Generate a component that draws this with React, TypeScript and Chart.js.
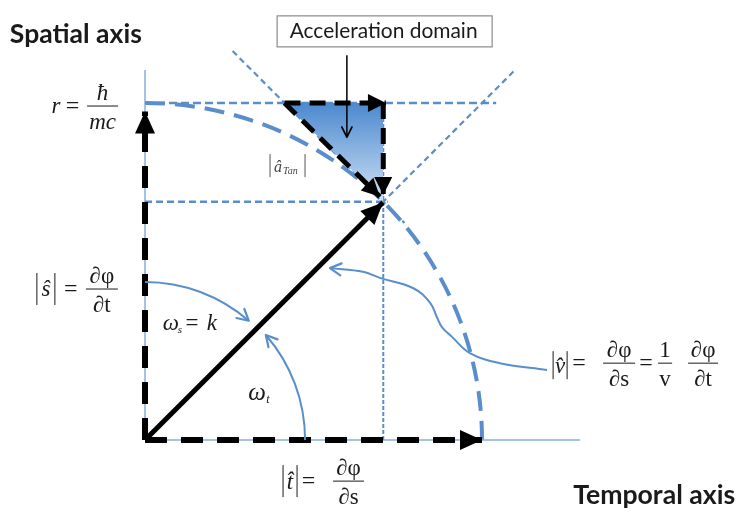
import React, { useEffect, useRef } from "react";
import { Chart, registerables } from "chart.js";

Chart.register(...registerables);

// ---- Diagram data, in units of r = ħ/mc (origin = crossing of the two axes) ----
const xExtent = [-0.4303, 1.7596];
const yExtent = [-0.2522, 1.3056];

const spatialAxis = [{ x: 0, y: 0 }, { x: 0, y: 1.098 }];
const temporalAxis = [{ x: 0, y: 0 }, { x: 1.291, y: 0 }];
const radiusLevel = [{ x: 0, y: 1 }, { x: 1.042, y: 1 }];
const velocityLevel = [{ x: 0, y: 0.707 }, { x: 0.72, y: 0.707 }];
const velocityDrop = [{ x: 0.707, y: 0 }, { x: 0.707, y: 1 }];
const coneFalling = [{ x: 0.26, y: 1.154 }, { x: 0.77, y: 0.644 }];
const coneRising = [{ x: 0.64, y: 0.64 }, { x: 1.098, y: 1.098 }];
const accelerationHyp = [{ x: 0.414, y: 1 }, { x: 0.707, y: 0.707 }];
const sHatVector = [{ x: 0, y: 0 }, { x: 0, y: 0.975 }];
const tHatVector = [{ x: 0, y: 0 }, { x: 1.0, y: 0 }];
const vVector = [{ x: 0, y: 0 }, { x: 0.706, y: 0.705 }];
const accTopEdge = [{ x: 0.414, y: 1 }, { x: 0.715, y: 1 }];
const accRightEdge = [{ x: 0.707, y: 1 }, { x: 0.707, y: 0.727 }];
const accHypEdge = [{ x: 0.414, y: 1 }, { x: 0.697, y: 0.722 }];
const domainPointer = [{ x: 0.599, y: 1.142 }, { x: 0.599, y: 0.899 }];
const vCallout = [
  { x: 1.193, y: 0.208 },
  { x: 1.053, y: 0.228 },
  { x: 0.964, y: 0.258 },
  { x: 0.911, y: 0.306 },
  { x: 0.881, y: 0.335 },
  { x: 0.866, y: 0.365 },
  { x: 0.846, y: 0.407 },
  { x: 0.795, y: 0.451 },
  { x: 0.697, y: 0.481 },
  { x: 0.647, y: 0.499 },
  { x: 0.549, y: 0.51 },
];
const circleArc = { radius: 1, from: 90, to: 0 };
const omegaSArc = { radius: 0.469, from: 90, to: 49 };
const omegaTArc = { radius: 0.475, from: 0, to: 41 };

// label anchors (data units)
const spatialTitleAt = { x: -0.401, y: 1.178 };
const temporalTitleAt = { x: 1.751, y: -0.19 };
const domainBoxAt = { x: 0.711, y: 1.214 };
const rLabelAt = { x: -0.126, y: 0.991 };
const sLabelAt = { x: -0.128, y: 0.448 };
const vLabelAt = { x: 1.211, y: 0.228 };
const tLabelAt = { x: 0.604, y: -0.122 };
const omegaSAt = { x: 0.053, y: 0.326 };
const omegaTAt = { x: 0.306, y: 0.119 };
const aTanAt = { x: 0.371, y: 0.795 };

const SERIF = '"Liberation Serif", "Times New Roman", serif';
const SANS = 'Lato, "Open Sans", sans-serif';
const BLUE = "#5A8ECB";
const AXIS_BLUE = "#86AEDC";

function fitFont(ctx: any, text: string, weight: string, family: string, target: number) {
  ctx.font = `${weight} 20px ${family}`;
  const w = ctx.measureText(text).width;
  return `${weight} ${((20 * target) / w).toFixed(2)}px ${family}`;
}

function txt(ctx: any, s: string, x: number, y: number, font: string, align: string = "left") {
  ctx.font = font;
  ctx.textAlign = align;
  ctx.textBaseline = "alphabetic";
  ctx.fillText(s, x, y);
}
function hl(ctx: any, x1: number, x2: number, y: number, w = 1) {
  ctx.beginPath();
  ctx.lineWidth = w;
  ctx.moveTo(x1, y);
  ctx.lineTo(x2, y);
  ctx.stroke();
}
function vl(ctx: any, x: number, y1: number, y2: number, w = 1) {
  ctx.beginPath();
  ctx.lineWidth = w;
  ctx.moveTo(x, y1);
  ctx.lineTo(x, y2);
  ctx.stroke();
}
function frac(ctx: any, cx: number, by: number, num: string, den: string, half: number, size = 23) {
  hl(ctx, cx - half, cx + half, by, 1);
  txt(ctx, num, cx, by - 6, `${size}px ${SERIF}`, "center");
  txt(ctx, den, cx, by + 23, `${size}px ${SERIF}`, "center");
}
function filledHead(ctx: any, tx: number, ty: number, dx: number, dy: number, len: number, half: number, color: string) {
  const n = Math.hypot(dx, dy) || 1;
  const ux = dx / n, uy = dy / n;
  const bx = tx - ux * len, by = ty - uy * len;
  ctx.save();
  ctx.setLineDash([]);
  ctx.fillStyle = color;
  ctx.beginPath();
  ctx.moveTo(tx, ty);
  ctx.lineTo(bx - uy * half, by + ux * half);
  ctx.lineTo(bx + uy * half, by - ux * half);
  ctx.closePath();
  ctx.fill();
  ctx.restore();
}
function openHead(ctx: any, tx: number, ty: number, dx: number, dy: number, len: number, half: number, color: string, w: number) {
  const n = Math.hypot(dx, dy) || 1;
  const ux = dx / n, uy = dy / n;
  const bx = tx - ux * len, by = ty - uy * len;
  ctx.save();
  ctx.setLineDash([]);
  ctx.strokeStyle = color;
  ctx.lineWidth = w;
  ctx.lineCap = "round";
  ctx.lineJoin = "round";
  ctx.beginPath();
  ctx.moveTo(bx - uy * half, by + ux * half);
  ctx.lineTo(tx, ty);
  ctx.lineTo(bx + uy * half, by - ux * half);
  ctx.stroke();
  ctx.restore();
}

function arcPath(chart: any, a: { radius: number; from: number; to: number }) {
  const xs = chart.scales.x, ys = chart.scales.y;
  const cx = xs.getPixelForValue(0), cy = ys.getPixelForValue(0);
  const r = xs.getPixelForValue(a.radius) - cx;
  const s = (-a.from * Math.PI) / 180, e = (-a.to * Math.PI) / 180;
  const ctx = chart.ctx;
  ctx.beginPath();
  ctx.arc(cx, cy, r, s, e, a.to > a.from);
  const th = (a.to * Math.PI) / 180;
  const tip = { x: cx + r * Math.cos(th), y: cy - r * Math.sin(th) };
  const dir = a.to > a.from ? { x: -Math.sin(th), y: -Math.cos(th) } : { x: Math.sin(th), y: Math.cos(th) };
  return { tip, dir };
}

const diagramPlugin = {
  id: "diagram",
  beforeDatasetsDraw(chart: any) {
    const ctx = chart.ctx;
    ctx.save();
    arcPath(chart, circleArc);
    ctx.strokeStyle = BLUE;
    ctx.lineWidth = 4;
    ctx.setLineDash([20, 10]);
    ctx.stroke();
    ctx.restore();
  },
  afterDatasetsDraw(chart: any) {
    const ctx = chart.ctx;
    const xs = chart.scales.x, ys = chart.scales.y;
    const P = (p: { x: number; y: number }) => ({ x: xs.getPixelForValue(p.x), y: ys.getPixelForValue(p.y) });

    // arrowheads on datasets
    chart.data.datasets.forEach((ds: any, i: number) => {
      if (!ds.arrow) return;
      const pts = chart.getDatasetMeta(i).data;
      const a = pts[pts.length - 2], b = pts[pts.length - 1];
      const dx = b.x - a.x, dy = b.y - a.y;
      if (ds.arrow.open) openHead(ctx, b.x, b.y, dx, dy, ds.arrow.len, ds.arrow.half, ds.arrow.color, ds.arrow.w || 2);
      else filledHead(ctx, b.x, b.y, dx, dy, ds.arrow.len, ds.arrow.half, ds.arrow.color);
    });

    // small angle arcs
    ctx.save();
    ctx.strokeStyle = BLUE;
    ctx.lineWidth = 2;
    ctx.setLineDash([]);
    for (const a of [omegaSArc, omegaTArc]) {
      const { tip, dir } = arcPath(chart, a);
      ctx.stroke();
      openHead(ctx, tip.x, tip.y, dir.x, dir.y, 11, 6, BLUE, 2.2);
    }
    ctx.restore();

    ctx.save();
    ctx.fillStyle = "#1a1a1a";
    ctx.strokeStyle = "#1a1a1a";

    // titles
    const st = P(spatialTitleAt);
    txt(ctx, "Spatial axis", st.x, st.y, fitFont(ctx, "Spatial axis", "bold", SANS, 132), "left");
    const tt = P(temporalTitleAt);
    txt(ctx, "Temporal axis", tt.x, tt.y, fitFont(ctx, "Temporal axis", "bold", SANS, 162), "right");

    // Acceleration domain box
    const bc = P(domainBoxAt);
    ctx.save();
    ctx.fillStyle = "#ffffff";
    ctx.strokeStyle = "#8a8a8a";
    ctx.lineWidth = 1.2;
    ctx.fillRect(bc.x - 107.5, bc.y - 15, 215, 31);
    ctx.strokeRect(bc.x - 107.5, bc.y - 15, 215, 31);
    ctx.restore();
    txt(ctx, "Acceleration domain", bc.x - 1, bc.y + 7, fitFont(ctx, "Acceleration domain", "normal", SANS, 188), "center");

    // r = ħ / mc
    const r = P(rLabelAt);
    frac(ctx, r.x, r.y, "", "", 15.5);
    txt(ctx, "\u0127", r.x, r.y - 6, `italic 23px ${SERIF}`, "center");
    txt(ctx, "mc", r.x, r.y + 23, `italic 23px ${SERIF}`, "center");
    txt(ctx, "=", r.x - 30, r.y + 7, `24px ${SERIF}`, "center");
    txt(ctx, "r", r.x - 42, r.y + 7, `italic 23px ${SERIF}`, "right");

    // |ŝ| = ∂φ/∂t
    const s = P(sLabelAt);
    frac(ctx, s.x, s.y, "\u2202\u03C6", "\u2202t", 16);
    txt(ctx, "=", s.x - 31, s.y + 7, `24px ${SERIF}`, "center");
    vl(ctx, s.x - 65, s.y - 16, s.y + 16);
    vl(ctx, s.x - 47, s.y - 16, s.y + 16);
    txt(ctx, "\u015D", s.x - 56, s.y + 7, `italic 23px ${SERIF}`, "center");

    // |v̂| = ∂φ/∂s = 1/v ∂φ/∂t
    const v = P(vLabelAt);
    vl(ctx, v.x, v.y - 12, v.y + 16);
    vl(ctx, v.x + 14, v.y - 12, v.y + 16);
    txt(ctx, "v\u0302", v.x + 7, v.y + 10, `italic 23px ${SERIF}`, "center");
    txt(ctx, "=", v.x + 26, v.y + 7, `24px ${SERIF}`, "center");
    frac(ctx, v.x + 66, v.y, "\u2202\u03C6", "\u2202s", 16);
    txt(ctx, "=", v.x + 93, v.y + 7, `24px ${SERIF}`, "center");
    frac(ctx, v.x + 112, v.y, "1", "v", 7);
    frac(ctx, v.x + 150, v.y, "\u2202\u03C6", "\u2202t", 15);

    // |t̂| = ∂φ/∂s
    const t = P(tLabelAt);
    frac(ctx, t.x, t.y, "\u2202\u03C6", "\u2202s", 15.5);
    txt(ctx, "=", t.x - 40, t.y + 7, `24px ${SERIF}`, "center");
    vl(ctx, t.x - 65.5, t.y - 16, t.y + 16);
    vl(ctx, t.x - 51.5, t.y - 16, t.y + 16);
    txt(ctx, "t\u0302", t.x - 58.5, t.y + 8, `italic 23px ${SERIF}`, "center");

    // ω_s = k
    const os = P(omegaSAt);
    txt(ctx, "\u03C9", os.x, os.y, `italic 23px ${SERIF}`, "left");
    txt(ctx, "s", os.x + 15, os.y + 3, `italic 11px ${SERIF}`, "left");
    txt(ctx, "=", os.x + 29, os.y, `23px ${SERIF}`, "center");
    txt(ctx, "k", os.x + 44, os.y, `italic 23px ${SERIF}`, "left");

    // ω_t
    const ot = P(omegaTAt);
    txt(ctx, "\u03C9", ot.x, ot.y, `italic 25px ${SERIF}`, "left");
    txt(ctx, "t", ot.x + 18, ot.y + 3, `italic 12px ${SERIF}`, "left");

    // |â_Tan|
    const at = P(aTanAt);
    ctx.strokeStyle = "#555";
    ctx.fillStyle = "#444";
    vl(ctx, at.x, at.y - 18, at.y + 5);
    vl(ctx, at.x + 35, at.y - 18, at.y + 5);
    txt(ctx, "\u00E2", at.x + 4, at.y, `italic 16px ${SERIF}`, "left");
    txt(ctx, "Tan", at.x + 13, at.y + 2, `italic 10px ${SERIF}`, "left");
    ctx.restore();
  },
};

function seg(data: any[], opts: any) {
  return {
    data,
    showLine: true,
    pointRadius: 0,
    fill: false,
    borderCapStyle: "butt",
    ...opts,
  };
}

export default function App() {
  const ref = useRef<HTMLCanvasElement>(null);
  useEffect(() => {
    document.body.style.margin = "0";
    const black = "#000000";
    const chart = new Chart(ref.current as HTMLCanvasElement, {
      type: "scatter",
      data: {
        datasets: [
          seg(spatialAxis, { borderColor: AXIS_BLUE, borderWidth: 1.5, order: 20 }),
          seg(temporalAxis, { borderColor: AXIS_BLUE, borderWidth: 1.5, order: 20 }),
          seg(radiusLevel, { borderColor: BLUE, borderWidth: 2.5, borderDash: [8, 4], order: 19 }),
          seg(velocityLevel, { borderColor: BLUE, borderWidth: 2.5, borderDash: [7, 4], order: 19 }),
          seg(velocityDrop, { borderColor: BLUE, borderWidth: 2, borderDash: [4, 2], order: 19 }),
          seg(coneFalling, { borderColor: BLUE, borderWidth: 2.2, borderDash: [6, 4], order: 19 }),
          seg(coneRising, { borderColor: BLUE, borderWidth: 2.2, borderDash: [6, 4], order: 19 }),
          seg(accelerationHyp, {
            borderColor: "rgba(0,0,0,0)",
            borderWidth: 0,
            fill: { value: 1 },
            backgroundColor: (c: any) => {
              const ch = c.chart;
              const ys = ch.scales && ch.scales.y;
              if (!ys || !ch.chartArea) return "#6FA2DA";
              const y0 = ys.getPixelForValue(1), y1 = ys.getPixelForValue(0.707);
              if (!isFinite(y0) || !isFinite(y1) || y0 === y1) return "#6FA2DA";
              const g = ch.ctx.createLinearGradient(0, y0, 0, y1);
              g.addColorStop(0, "#4C89CE");
              g.addColorStop(1, "#CFE2F6");
              return g;
            },
            order: 15,
          }),
          seg(vCallout, { borderColor: BLUE, borderWidth: 2, tension: 0.4, order: 12, arrow: { open: true, len: 11, half: 6, color: BLUE, w: 2.2 } }),
          seg(sHatVector, { borderColor: black, borderWidth: 6, borderDash: [22, 14], order: 5, arrow: { len: 22, half: 10, color: black } }),
          seg(tHatVector, { borderColor: black, borderWidth: 6, borderDash: [22, 14], order: 5, arrow: { len: 22, half: 10, color: black } }),
          seg(accTopEdge, { borderColor: black, borderWidth: 5, borderDash: [16, 9], order: 5, arrow: { len: 18, half: 9, color: black } }),
          seg(accRightEdge, { borderColor: black, borderWidth: 5, borderDash: [16, 9], order: 5, arrow: { len: 18, half: 9, color: black } }),
          seg(accHypEdge, { borderColor: black, borderWidth: 5, borderDash: [16, 9], order: 5, arrow: { len: 18, half: 9, color: black } }),
          seg(vVector, { borderColor: black, borderWidth: 5, order: 4, arrow: { len: 22, half: 10, color: black } }),
          seg(domainPointer, { borderColor: black, borderWidth: 1.5, order: 3, arrow: { open: true, len: 10, half: 5, color: black, w: 1.8 } }),
        ],
      },
      options: {
        animation: false,
        responsive: true,
        maintainAspectRatio: false,
        layout: { padding: 0 },
        events: [],
        plugins: { legend: { display: false }, tooltip: { enabled: false } },
        scales: {
          x: { type: "linear", min: xExtent[0], max: xExtent[1], display: false },
          y: { type: "linear", min: yExtent[0], max: yExtent[1], display: false },
        },
      } as any,
      plugins: [diagramPlugin],
    } as any);
    return () => chart.destroy();
  }, []);
  return (
    <div style={{ position: "relative", width: 738, height: 525, background: "#fff" }}>
      <canvas ref={ref} />
    </div>
  );
}
